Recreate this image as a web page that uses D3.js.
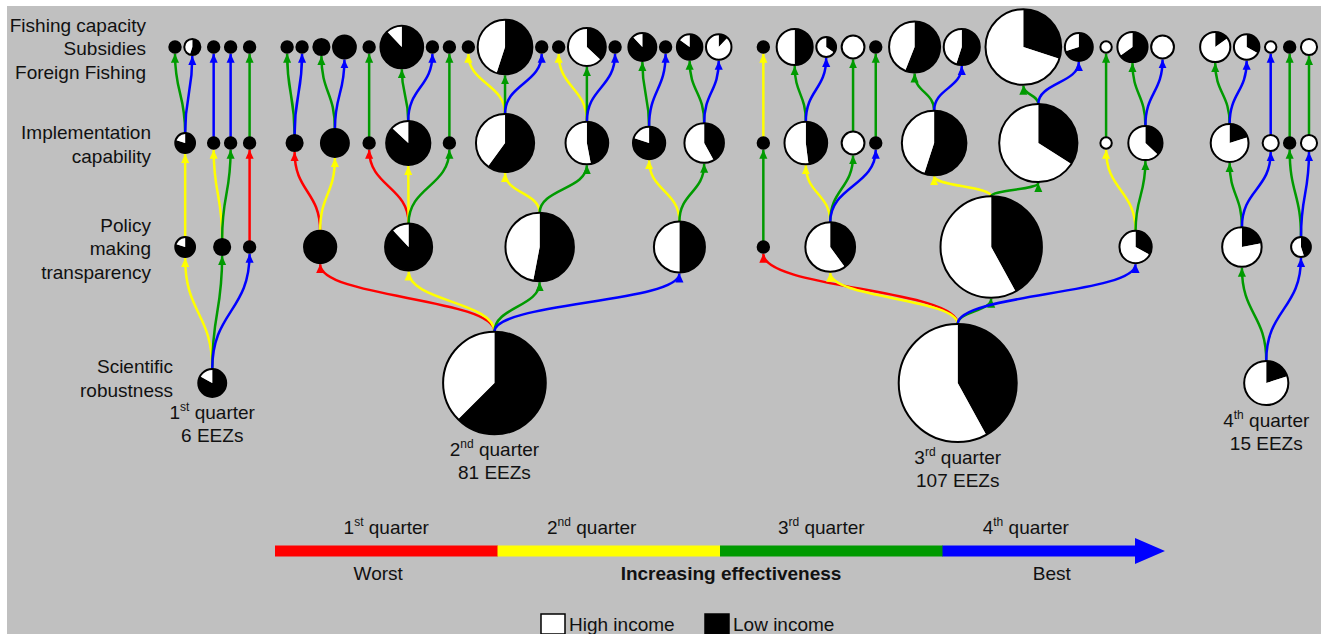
<!DOCTYPE html>
<html>
<head>
<meta charset="utf-8">
<script src="https://cdn.jsdelivr.net/npm/d3@7"></script>
<style>
  body { margin: 0; background: #fff; }
  svg { display: block; font-family: "Liberation Sans", Arial, Helvetica, sans-serif; }
</style>
</head>
<body>
<svg id="chart" width="1321" height="634"></svg>
<script>
// quarters: 1 = worst ... 4 = best
const quarterNames = ["1st", "2nd", "3rd", "4th"];
const quarterColors = ["#ff0000", "#ffff00", "#009a00", "#0000ff"];
const levelLabels = [
    ["Scientific", "robustness"],
    ["Policy", "making", "transparency"],
    ["Implementation", "capability"],
    ["Fishing capacity", "Subsidies", "Foreign Fishing"]
];
const scaleText = ["Worst", "Increasing effectiveness", "Best"];
const incomeLabels = ["High income", "Low income"];

// scientific robustness (one tree per quarter)
const rootQuarter = [1, 2, 3, 4];
const rootCount = [6, 81, 107, 15];
const rootHigh = [0.17, 0.375, 0.58, 0.8];

// policy making transparency (parent = index in root arrays)
const policyParent = [0, 0, 0, 1, 1, 1, 1, 2, 2, 2, 2, 3, 3];
const policyQuarter = [2, 3, 4, 1, 2, 3, 4, 1, 2, 3, 4, 3, 4];
const policyCount = [3, 2, 1, 8, 17, 36, 20, 1, 19, 79, 8, 12, 3];
const policyHigh = [0.2, 0, 0, 0, 0.12, 0.47, 0.5, 0, 0.6, 0.58, 0.67, 0.78, 0.55];

// implementation capability (parent = index in policy arrays)
const implParent = [0, 1, 1, 2, 3, 3, 4, 4, 4, 5, 5, 6, 6, 7, 8, 8, 8, 9, 9, 10, 10, 11, 11, 12, 12];
const implQuarter = [2, 2, 3, 1, 1, 2, 1, 2, 3, 2, 3, 2, 3, 3, 2, 3, 4, 2, 3, 2, 3, 3, 4, 3, 4];
const implCount = [3, 1, 1, 1, 2, 6, 1, 15, 1, 26, 14, 8, 12, 1, 14, 4, 1, 32, 47, 1, 9, 11, 2, 1, 2];
const implHigh = [0.2, 0, 0, 0, 0, 0, 0, 0.13, 0, 0.4, 0.53, 0.2, 0.58, 0, 0.52, 1, 0, 0.45, 0.66, 1, 0.63, 0.8, 1, 0, 1];

// fishing capacity / subsidies / foreign fishing (parent = index in impl arrays)
const topParent = [0, 0, 1, 2, 3,
    4, 4, 5, 5, 6, 7, 7, 8, 9, 9, 9, 10, 10, 10, 11, 11, 12, 12,
    13, 14, 14, 15, 16, 17, 17, 18, 18, 19, 20, 20,
    21, 21, 22, 23, 24];
const topQuarter = [3, 4, 4, 4, 3,
    3, 4, 3, 4, 3, 3, 4, 3, 2, 3, 4, 2, 3, 4, 3, 4, 3, 4,
    2, 3, 4, 3, 3, 3, 4, 3, 4, 3, 3, 4,
    3, 4, 4, 3, 3];
const topCount = [1, 2, 1, 1, 1,
    1, 1, 2, 4, 1, 14, 1, 1, 1, 23, 1, 1, 11, 1, 6, 1, 5, 5,
    1, 10, 3, 4, 1, 20, 10, 44, 6, 1, 7, 4,
    7, 5, 1, 1, 2];
const topHigh = [0, 0.45, 0, 0, 0,
    0, 0, 0, 0, 0, 0.12, 0, 0, 0, 0.45, 0, 0, 0.63, 0, 0.12, 0, 0.15, 0.88,
    0, 0.5, 0.65, 1, 0, 0.44, 0.45, 0.7, 0.3, 1, 0.35, 1,
    0.85, 0.67, 1, 0, 1];

const width = 1321, height = 634;
const fontSize = 19, supSize = 12;
const svg = d3.select("#chart");

svg.append("rect")
    .attr("x", 7).attr("y", 6)
    .attr("width", width - 7).attr("height", height - 6)
    .attr("fill", "#c0c0c0");

const r = d3.scaleSqrt().domain([0, 107]).range([0, 59]);
const levelY = d3.scaleOrdinal().domain([0, 1, 2, 3]).range([383, 247, 143, 47]);
const color = d3.scaleOrdinal().domain([1, 2, 3, 4]).range(quarterColors);

// build the four-level trees
const levels = [
    [null, rootQuarter, rootCount, rootHigh],
    [policyParent, policyQuarter, policyCount, policyHigh],
    [implParent, implQuarter, implCount, implHigh],
    [topParent, topQuarter, topCount, topHigh]
];
const byLevel = [];
levels.forEach(([par, q, n, hi], l) => {
    byLevel[l] = q.map((qq, i) => {
        const node = {level: l, q: qq, n: n[i], high: hi[i], children: []};
        if (par) {
            node.parent = byLevel[l - 1][par[i]];
            node.parent.children.push(node);
        }
        return node;
    });
});
const nodes = byLevel.flat();
function rootOf(d) {
    while (d.parent) d = d.parent;
    return d;
}

// pack the top row left to right, then put parents over their children
const leaves = byLevel[3];
let cursor = 0;
leaves.forEach((d, i) => {
    if (i > 0) {
        const p = leaves[i - 1];
        let gap = 24;
        if (p.parent === d.parent) gap = 1.5;
        else if (p.parent.parent === d.parent.parent) gap = 3.5;
        else if (rootOf(p) === rootOf(d)) gap = 5.5;
        cursor += r(p.n) + r(d.n) + 2 + gap;
    }
    d.u = cursor;
});
const x = d3.scaleLinear().domain([0, cursor]).range([175, 1309]);
leaves.forEach(d => d.x = x(d.u));
for (let l = 2; l >= 1; l--) {
    byLevel[l].forEach(d => {
        // inner nodes lean toward their bigger children
        const w = d.children.map(c => Math.sqrt(c.n));
        d.x = d3.sum(d.children, (c, j) => c.x * w[j]) / d3.sum(w);
    });
}
// each quarter's root sits under the mean of its top-row nodes
byLevel[0].forEach(d => {
    d.x = d3.mean(leaves.filter(c => rootOf(c) === d), c => c.x);
});
nodes.forEach(d => d.y = levelY(d.level));

// arrow heads
const defs = svg.append("defs");
[1, 2, 3, 4].forEach(q => {
    defs.append("marker")
        .attr("id", "arrow" + q)
        .attr("viewBox", "0 0 10 10")
        .attr("refX", 10).attr("refY", 5)
        .attr("markerUnits", "userSpaceOnUse")
        .attr("markerWidth", 9).attr("markerHeight", 9)
        .attr("orient", "auto")
        .append("path")
        .attr("d", "M0,0.5L10,5L0,9.5Z")
        .attr("fill", color(q));
});

// links
const link = d3.linkVertical().x(p => p[0]).y(p => p[1]);
svg.append("g")
    .selectAll("path")
    .data(nodes.filter(d => d.parent))
    .join("path")
    .attr("d", d => link({
        source: [d.parent.x, d.parent.y - r(d.parent.n)],
        target: [d.x, d.y + r(d.n) + 1]
    }))
    .attr("fill", "none")
    .attr("stroke", d => color(d.q))
    .attr("stroke-width", 2.5)
    .attr("marker-end", d => `url(#arrow${d.q})`);

// pies: black = low income (from 12 o'clock, clockwise), white = high income
const pie = d3.pie().sort(null);
const arc = d3.arc().innerRadius(0).outerRadius(a => a.radius);
const nodeG = svg.append("g")
    .selectAll("g")
    .data(nodes)
    .join("g")
    .attr("transform", d => `translate(${d.x},${d.y})`);
nodeG.selectAll("path")
    .data(d => pie([1 - d.high, d.high]).map(a => Object.assign(a, {radius: r(d.n)})))
    .join("path")
    .attr("d", arc)
    .attr("fill", (a, i) => i ? "#fff" : "#000");
nodeG.append("circle")
    .attr("r", d => r(d.n))
    .attr("fill", "none")
    .attr("stroke", "#000")
    .attr("stroke-width", 2);

// level labels on the left
const labelRight = [173, 151, 151, 146];
const labelShift = [2, 8, 8, 8];
levelLabels.forEach((lines, l) => {
    const t = svg.append("text")
        .attr("text-anchor", "end")
        .attr("font-size", fontSize)
        .attr("fill", "#111");
    lines.forEach((s, i) => {
        t.append("tspan")
            .attr("x", labelRight[l])
            .attr("y", levelY(l) + labelShift[l] + (i - (lines.length - 1) / 2) * 23.5)
            .text(s);
    });
});

function quarterLabel(text, q, size, sup) {
    const name = quarterNames[q - 1];
    text.append("tspan").text(name.slice(0, 1));
    text.append("tspan").attr("font-size", sup).attr("dy", -size * 0.42).text(name.slice(1));
    text.append("tspan").attr("dy", size * 0.42).text(" quarter");
}

// root captions
byLevel[0].forEach(d => {
    const base = d.y + r(d.n) + 22;
    const t = svg.append("text")
        .attr("text-anchor", "middle")
        .attr("x", d.x).attr("y", base)
        .attr("font-size", fontSize).attr("fill", "#111");
    quarterLabel(t, d.q, fontSize, supSize);
    svg.append("text")
        .attr("text-anchor", "middle")
        .attr("x", d.x).attr("y", base + 23)
        .attr("font-size", fontSize).attr("fill", "#111")
        .text(`${d.n} EEZs`);
});

// effectiveness scale
const band = d3.scaleBand().domain([1, 2, 3, 4]).range([275, 1165]);
const barY = 551, barH = 11, headLen = 30, headH = 13;
[1, 2, 3].forEach(q => {
    svg.append("rect")
        .attr("x", band(q)).attr("y", barY - barH / 2)
        .attr("width", band.bandwidth() + 0.5).attr("height", barH)
        .attr("fill", color(q));
});
const x4 = band(4), xEnd = band(4) + band.bandwidth();
svg.append("path")
    .attr("d", `M${x4},${barY - barH / 2}H${xEnd - headLen}V${barY - headH}L${xEnd},${barY}` +
        `L${xEnd - headLen},${barY + headH}V${barY + barH / 2}H${x4}Z`)
    .attr("fill", color(4));

const quarterShift = [0, -17, -10, -28];
[1, 2, 3, 4].forEach(q => {
    const t = svg.append("text")
        .attr("text-anchor", "middle")
        .attr("x", band(q) + band.bandwidth() / 2 + quarterShift[q - 1])
        .attr("y", 534)
        .attr("font-size", fontSize).attr("fill", "#111");
    quarterLabel(t, q, fontSize, supSize);
});
svg.append("text")
    .attr("text-anchor", "middle")
    .attr("x", band(1) + band.bandwidth() / 2 - 8).attr("y", 580)
    .attr("font-size", fontSize).attr("fill", "#111")
    .text(scaleText[0]);
svg.append("text")
    .attr("text-anchor", "middle")
    .attr("x", 731).attr("y", 580)
    .attr("font-size", fontSize).attr("font-weight", "bold").attr("fill", "#111")
    .text(scaleText[1]);
svg.append("text")
    .attr("text-anchor", "middle")
    .attr("x", band(4) + band.bandwidth() / 2 - 2).attr("y", 580)
    .attr("font-size", fontSize).attr("fill", "#111")
    .text(scaleText[2]);

// income legend
const legendX = [541, 705];
incomeLabels.forEach((s, i) => {
    svg.append("rect")
        .attr("x", legendX[i]).attr("y", 614)
        .attr("width", 24).attr("height", 20)
        .attr("fill", i ? "#000" : "#fff")
        .attr("stroke", "#000").attr("stroke-width", 1.5);
    svg.append("text")
        .attr("x", legendX[i] + 28).attr("y", 631)
        .attr("font-size", fontSize).attr("fill", "#111")
        .text(s);
});
</script>
</body>
</html>
